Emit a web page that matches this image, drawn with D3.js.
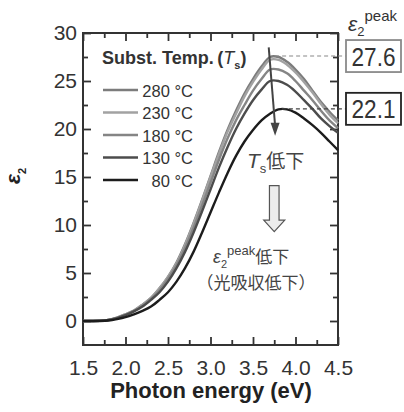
<!DOCTYPE html>
<html lang="ja">
<head>
  <meta charset="UTF-8">
  <title>ε2 vs Photon energy</title>
  <script src="https://cdn.jsdelivr.net/npm/d3@7"></script>
  <style>
    body {
      margin: 0;
      padding: 0;
      background-color: #ffffff;
    }
    svg text {
      font-family: "Liberation Sans", Arial, sans-serif;
    }
  </style>
</head>
<body>
<div id="chart"></div>

<script>
  // Photon energy grid (eV)
  const energy = [1.5, 1.6, 1.7, 1.8, 1.9, 2.0, 2.1, 2.2, 2.3, 2.4, 2.5, 2.6, 2.7, 2.8, 2.9, 3.0,
                  3.1, 3.2, 3.3, 3.4, 3.5, 3.6, 3.7, 3.8, 3.9, 4.0, 4.1, 4.2, 4.3, 4.4, 4.5];

  // eps2 for each substrate temperature
  const eps280 = [0, 0, 0.02, 0.12, 0.35, 0.7, 1.1, 1.7, 2.4, 3.4, 4.6, 6.1, 8.0, 10.2, 12.6, 15.1,
                  17.6, 19.9, 21.9, 23.7, 25.2, 26.5, 27.5, 27.5, 27.0, 26.2, 25.2, 24.0, 22.8, 21.8, 20.9];
  const eps230 = [0, 0, 0.02, 0.12, 0.35, 0.7, 1.1, 1.7, 2.4, 3.4, 4.6, 6.0, 7.9, 10.1, 12.5, 15.0,
                  17.4, 19.7, 21.6, 23.4, 24.9, 26.2, 27.2, 27.2, 26.7, 25.9, 24.9, 23.8, 22.6, 21.5, 20.6];
  const eps180 = [0, 0, 0.02, 0.12, 0.33, 0.65, 1.05, 1.6, 2.3, 3.2, 4.4, 5.8, 7.6, 9.7, 12.0, 14.4,
                  16.8, 19.0, 20.9, 22.5, 24.0, 25.2, 26.2, 26.2, 25.8, 25.0, 24.0, 23.0, 21.9, 20.9, 20.1];
  const eps130 = [0, 0, 0.02, 0.1, 0.3, 0.6, 1.0, 1.5, 2.2, 3.0, 4.1, 5.5, 7.2, 9.2, 11.4, 13.7,
                  16.0, 18.1, 20.0, 21.6, 23.0, 24.1, 25.0, 25.0, 24.6, 23.9, 23.0, 22.1, 21.1, 20.3, 19.6];
  const eps80  = [0, 0, 0, 0.05, 0.2, 0.4, 0.7, 1.05, 1.5, 2.2, 3.0, 4.1, 5.5, 7.2, 9.2, 11.3,
                  13.4, 15.4, 17.2, 18.7, 19.9, 20.9, 21.6, 22.05, 22.05, 21.7, 21.1, 20.4, 19.6, 18.7, 17.8];

  const tempLabels = ["280 °C", "230 °C", "180 °C", "130 °C", "80 °C"];
  const series = [eps280, eps230, eps180, eps130, eps80];
  const colors = ["#7c7c7c", "#a2a2a2", "#858585", "#4c4c4c", "#1c1c1c"];

  // peak annotations
  const peakValues = [27.6, 22.1];
  const peakEnergy = [3.76, 3.84];
  const peakText = ["27.6", "22.1"];

  const xTicks = [1.5, 2.0, 2.5, 3.0, 3.5, 4.0, 4.5];
  const xMinor = [1.75, 2.25, 2.75, 3.25, 3.75, 4.25];
  const yTicks = [0, 5, 10, 15, 20, 25, 30];
  const yMinor = [2.5, 7.5, 12.5, 17.5, 22.5, 27.5];

  const width = 404;
  const height = 412;
  const margin = {top: 33, right: 66, bottom: 67, left: 83};

  const x = d3.scaleLinear()
          .domain([1.5, 4.5])
          .range([margin.left, width - margin.right]);
  const y = d3.scaleLinear()
          .domain([-2.5, 30])
          .range([height - margin.bottom, margin.top]);

  const svg = d3.select("#chart").append("svg")
          .attr("width", width)
          .attr("height", height)
          .attr("viewBox", [0, 0, width, height]);

  // ticks on all four sides, pointing inward
  function styleAxis(g) {
    g.select(".domain").remove();
    g.selectAll(".tick line").attr("stroke", "#333").attr("stroke-width", 1.8);
    g.selectAll(".tick text")
            .attr("fill", "#333")
            .style("font-size", "21px");
  }

  const x0 = y(-2.5), x1 = y(30);
  svg.append("g")
          .attr("transform", `translate(0,${x0})`)
          .call(d3.axisBottom(x).tickValues(xTicks).tickSize(-8).tickPadding(15).tickFormat(d3.format(".1f")))
          .call(styleAxis);
  svg.append("g")
          .attr("transform", `translate(0,${x0})`)
          .call(d3.axisBottom(x).tickValues(xMinor).tickSize(-5).tickFormat(""))
          .call(styleAxis);
  svg.append("g")
          .attr("transform", `translate(0,${x1})`)
          .call(d3.axisTop(x).tickValues(xTicks).tickSize(-8).tickFormat(""))
          .call(styleAxis);
  svg.append("g")
          .attr("transform", `translate(0,${x1})`)
          .call(d3.axisTop(x).tickValues(xMinor).tickSize(-5).tickFormat(""))
          .call(styleAxis);

  svg.append("g")
          .attr("transform", `translate(${x(1.5)},0)`)
          .call(d3.axisLeft(y).tickValues(yTicks).tickSize(-8).tickPadding(6))
          .call(styleAxis);
  svg.append("g")
          .attr("transform", `translate(${x(1.5)},0)`)
          .call(d3.axisLeft(y).tickValues(yMinor).tickSize(-5).tickFormat(""))
          .call(styleAxis);
  svg.append("g")
          .attr("transform", `translate(${x(4.5)},0)`)
          .call(d3.axisRight(y).tickValues(yTicks).tickSize(-8).tickFormat(""))
          .call(styleAxis);
  svg.append("g")
          .attr("transform", `translate(${x(4.5)},0)`)
          .call(d3.axisRight(y).tickValues(yMinor).tickSize(-5).tickFormat(""))
          .call(styleAxis);

  // frame
  svg.append("rect")
          .attr("x", x(1.5))
          .attr("y", y(30))
          .attr("width", x(4.5) - x(1.5))
          .attr("height", y(-2.5) - y(30))
          .attr("fill", "none")
          .attr("stroke", "#333")
          .attr("stroke-width", 2);

  // curves
  const line = d3.line()
          .x((d, i) => x(energy[i]))
          .y(d => y(d))
          .curve(d3.curveCatmullRom);

  svg.append("g")
          .selectAll("path")
          .data(series)
          .join("path")
          .attr("d", line)
          .attr("fill", "none")
          .attr("stroke", (d, i) => colors[i])
          .attr("stroke-width", 2.4);

  // legend
  svg.append("text")
          .attr("x", 102)
          .attr("y", 64)
          .attr("fill", "#333")
          .style("font-size", "18px")
          .style("font-weight", "bold")
          .call(t => {
            t.append("tspan").text("Subst. Temp.\u2009(");
            t.append("tspan").style("font-style", "italic").style("font-weight", "normal").text("T");
            t.append("tspan").attr("dy", 5).style("font-size", "11px").text("s");
            t.append("tspan").attr("dy", -5).text(")");
          });

  const legend = svg.append("g")
          .selectAll("g")
          .data(tempLabels)
          .join("g")
          .attr("transform", (d, i) => `translate(0,${90 + i * 22.5})`);
  legend.append("line")
          .attr("x1", 103)
          .attr("x2", 138)
          .attr("stroke", (d, i) => colors[i])
          .attr("stroke-width", 2.6);
  legend.append("text")
          .attr("x", 193)
          .attr("y", 6.5)
          .attr("text-anchor", "end")
          .attr("fill", "#333")
          .style("font-size", "16.5px")
          .text(d => d);

  // peak dashed leaders and boxes
  const boxX = 346, boxW = 55, boxH = 32;
  const boxStroke = ["#8a8a8a", "#222"];
  peakValues.forEach((v, i) => {
    svg.append("line")
            .attr("x1", x(peakEnergy[i]))
            .attr("x2", boxX)
            .attr("y1", y(v))
            .attr("y2", y(v))
            .attr("stroke", i === 0 ? "#888" : "#444")
            .attr("stroke-width", 1.1)
            .attr("stroke-dasharray", "4,3");
    svg.append("rect")
            .attr("x", boxX)
            .attr("y", y(v) - boxH / 2)
            .attr("width", boxW)
            .attr("height", boxH)
            .attr("fill", "#fff")
            .attr("stroke", boxStroke[i])
            .attr("stroke-width", 1.8);
    svg.append("text")
            .attr("x", boxX + boxW / 2)
            .attr("y", y(v) + 9.5)
            .attr("text-anchor", "middle")
            .attr("fill", "#333")
            .attr("textLength", 44)
            .attr("lengthAdjust", "spacingAndGlyphs")
            .style("font-size", "26px")
            .text(peakText[i]);
  });

  // eps2^peak header at top right
  svg.append("text")
          .attr("x", 348)
          .attr("y", 31)
          .attr("fill", "#333")
          .call(t => {
            t.append("tspan").style("font-style", "italic").style("font-size", "21px").text("ε");
            t.append("tspan").attr("dy", 5).style("font-size", "13px").text("2");
            t.append("tspan").attr("dy", -15).style("font-size", "15px").text("peak");
          });

  // Ts decreasing arrow
  const ax1 = x(3.685), ay1 = y(28.5), ax2 = x(3.76), ay2 = y(19.3);
  svg.append("line")
          .attr("x1", ax1).attr("y1", ay1)
          .attr("x2", ax2).attr("y2", ay2 - 10)
          .attr("stroke", "#444")
          .attr("stroke-width", 2);
  svg.append("path")
          .attr("d", `M${ax2},${ay2} L${ax2 - 4.5},${ay2 - 13} L${ax2 + 4.5},${ay2 - 13} Z`)
          .attr("fill", "#444");

  svg.append("text")
          .attr("x", 247)
          .attr("y", 168)
          .attr("fill", "#444")
          .call(t => {
            t.append("tspan").style("font-style", "italic").style("font-size", "21px").text("T");
            t.append("tspan").attr("dy", 5).style("font-size", "13px").text("s");
            t.append("tspan").attr("dy", -5).style("font-size", "19px")
                    .style("font-family", "'Noto Sans CJK JP', sans-serif").text("低下");
          });

  // hollow block arrow
  const bx = x(3.75), bTop = y(14.1), bNeck = y(10.5), bTip = y(9.3);
  svg.append("path")
          .attr("d", `M${bx - 4.8},${bTop} L${bx + 4.8},${bTop} L${bx + 4.8},${bNeck} L${bx + 10.5},${bNeck}
                      L${bx},${bTip} L${bx - 10.5},${bNeck} L${bx - 4.8},${bNeck} Z`)
          .attr("fill", "#ececec")
          .attr("stroke", "#555")
          .attr("stroke-width", 1.2);

  svg.append("text")
          .attr("x", 213)
          .attr("y", 263)
          .attr("fill", "#444")
          .call(t => {
            t.append("tspan").style("font-style", "italic").style("font-size", "18px").text("ε");
            t.append("tspan").attr("dy", 5).style("font-size", "11px").text("2");
            t.append("tspan").attr("dy", -13).style("font-size", "13px").text("peak");
            t.append("tspan").attr("dy", 8).style("font-size", "17px")
                    .style("font-family", "'Noto Sans CJK JP', sans-serif").text("低下");
          });
  svg.append("text")
          .attr("x", 256)
          .attr("y", 289)
          .attr("text-anchor", "middle")
          .attr("fill", "#444")
          .style("font-size", "17px")
          .style("font-family", "'Noto Sans CJK JP', sans-serif")
          .text("（光吸収低下）");

  // axis titles
  svg.append("text")
          .attr("x", 211)
          .attr("y", 398)
          .attr("text-anchor", "middle")
          .attr("fill", "#222")
          .style("font-size", "22px")
          .style("font-weight", "bold")
          .text("Photon energy (eV)");

  svg.append("text")
          .attr("transform", "translate(20,184) rotate(-90)")
          .attr("fill", "#222")
          .style("font-weight", "bold")
          .call(t => {
            t.append("tspan").style("font-style", "italic").style("font-size", "21px").text("ε");
            t.append("tspan").attr("dy", 6).style("font-size", "11px").text("2");
          });
</script>
</body>
</html>
